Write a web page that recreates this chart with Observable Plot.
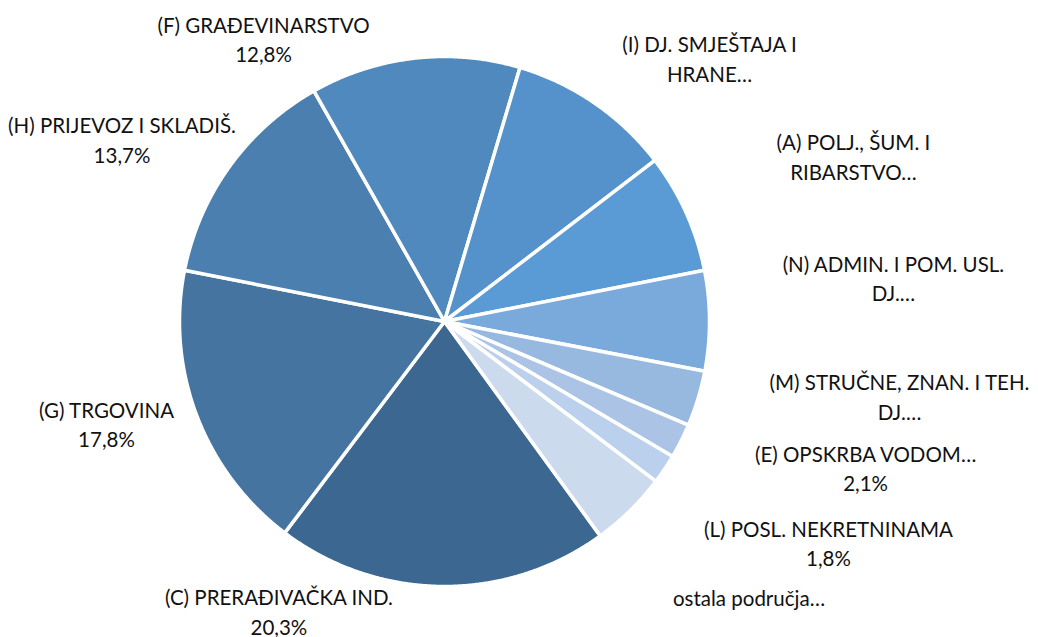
<!DOCTYPE html>
<html><head><meta charset="utf-8">
<script src="https://cdn.jsdelivr.net/npm/d3@7"></script>
<script src="https://cdn.jsdelivr.net/npm/@observablehq/plot@0.6"></script>
<style>body{margin:0;background:#fff}</style>
</head><body><div id="chart"></div>
<script>
// Data (clockwise order of slices)
const sectors = ["(C) PRERAĐIVAČKA IND.", "(G) TRGOVINA", "(H) PRIJEVOZ I SKLADIŠ.", "(F) GRAĐEVINARSTVO",
  "(I) DJ. SMJEŠTAJA I HRANE", "(A) POLJ., ŠUM. I RIBARSTVO", "(N) ADMIN. I POM. USL. DJ.",
  "(M) STRUČNE, ZNAN. I TEH. DJ.", "(E) OPSKRBA VODOM", "(L) POSL. NEKRETNINAMA", "ostala područja"];
const shares = [20.3, 17.8, 13.7, 12.8, 10.0, 7.3, 6.1, 3.4, 2.1, 1.8, 4.7];
// Label texts as displayed (Excel truncated some)
const labelTexts = [
  "(C) PRERAĐIVAČKA IND.\n20,3%",
  "(G) TRGOVINA\n17,8%",
  "(H) PRIJEVOZ I SKLADIŠ.\n13,7%",
  "(F) GRAĐEVINARSTVO\n12,8%",
  "(I) DJ. SMJEŠTAJA I\nHRANE…",
  "(A) POLJ., ŠUM. I\nRIBARSTVO…",
  "(N) ADMIN. I POM. USL.\nDJ.…",
  "(M) STRUČNE, ZNAN. I TEH.\nDJ.…",
  "(E) OPSKRBA VODOM…\n2,1%",
  "(L) POSL. NEKRETNINAMA\n1,8%",
  "ostala područja…"
];
const colors = ["#3b6790", "#44749f", "#4a7fb0", "#4f89bd", "#5592cb", "#5b9bd5",
  "#7aa9db", "#98b9df", "#abc4e6", "#bbd0ec", "#ccdaee"];

// Layout
const startDeg = 144;
const labelAnchors = [[-0.625, -1.102], [-1.2755, -0.396], [-1.217, 0.679], [-0.683, 1.0585],
  [1.000, 0.985], [1.543, 0.615], [1.694, 0.155], [1.717, -0.2906], [1.589, -0.562],
  [1.449, -0.845], [1.149, -1.049]];

const a0 = startDeg * Math.PI / 180;
const arcs = d3.pie().sort(null).value(d => d).startAngle(a0).endAngle(a0 + 2 * Math.PI)(shares);
const pts = [];
arcs.forEach((a, i) => {
  pts.push({i, x: 0, y: 0});
  const n = Math.max(4, Math.ceil((a.endAngle - a.startAngle) / 0.005));
  for (let k = 0; k <= n; k++) {
    const t = a.startAngle + (a.endAngle - a.startAngle) * k / n;
    pts.push({i, x: Math.sin(t), y: Math.cos(t)});
  }
});
const labels = labelTexts.map((t, i) => ({text: t, x: labelAnchors[i][0], y: labelAnchors[i][1]}));

const chart = Plot.plot({
  width: 1038, height: 637,
  marginLeft: 179, marginRight: 329, marginTop: 56, marginBottom: 51,
  x: {domain: [-1, 1], axis: null},
  y: {domain: [-1, 1], axis: null},
  color: {type: "identity"},
  style: {fontFamily: "Lato, 'Open Sans', sans-serif", background: "#fff", overflow: "visible"},
  marks: [
    Plot.line(pts, {x: "x", y: "y", z: "i", fill: d => colors[d.i], stroke: "white",
      strokeWidth: 3.5, curve: "linear-closed", strokeLinejoin: "round"}),
    Plot.text(labels, {x: "x", y: "y", text: "text", fontSize: 20.5, lineHeight: 1.43, dy: -3, fill: "#111"})
  ]
});
document.getElementById("chart").appendChild(chart);
</script>
</body></html>
